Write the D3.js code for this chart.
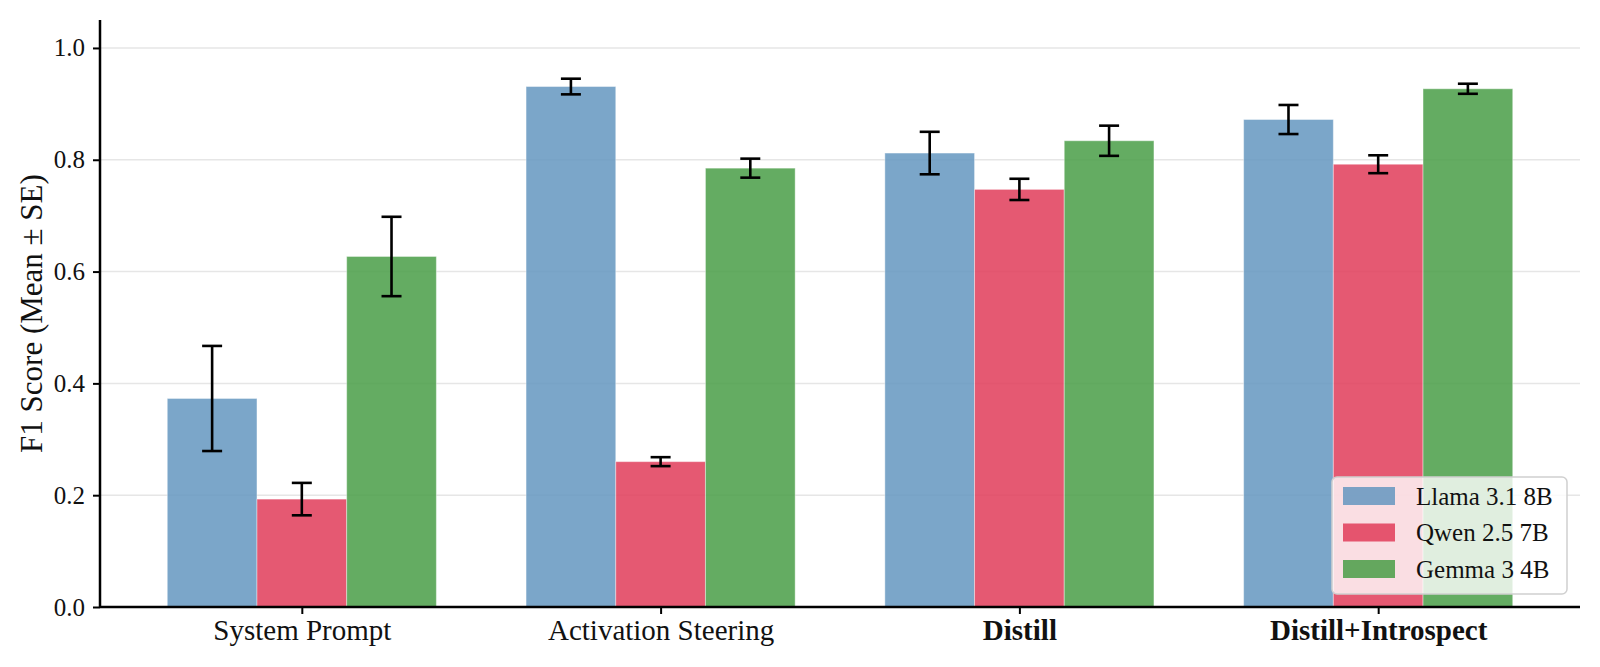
<!DOCTYPE html>
<html>
<head>
<meta charset="utf-8">
<script src="https://cdn.jsdelivr.net/npm/d3@7"></script>
<style>
  html, body { margin: 0; padding: 0; background: #fff; }
  svg { display: block; font-family: "Liberation Serif", "DejaVu Serif", serif; }
</style>
</head>
<body>
<svg id="chart" width="1600" height="667"></svg>
<script>
const categories = ["System Prompt", "Activation Steering", "Distill", "Distill+Introspect"];
const boldCategories = ["Distill", "Distill+Introspect"];
const seriesNames = ["Llama 3.1 8B", "Qwen 2.5 7B", "Gemma 3 4B"];
const llamaMean = [0.373, 0.931, 0.812, 0.872];
const llamaSE   = [0.094, 0.014, 0.038, 0.026];
const qwenMean  = [0.193, 0.260, 0.747, 0.792];
const qwenSE    = [0.029, 0.008, 0.019, 0.016];
const gemmaMean = [0.627, 0.785, 0.834, 0.927];
const gemmaSE   = [0.071, 0.017, 0.027, 0.009];
const yTicks = [0.0, 0.2, 0.4, 0.6, 0.8, 1.0];
const colors = ["#6496bf", "#e13c59", "#499d47"];

const means = [llamaMean, qwenMean, gemmaMean];
const ses = [llamaSE, qwenSE, gemmaSE];

const svg = d3.select("#chart");
const pLeft = 100, pRight = 1580, pTop = 20, pBottom = 607;

const x = d3.scaleLinear().domain([-0.5625, categories.length - 1 + 0.5625]).range([pLeft, pRight]);
const y = d3.scaleLinear().domain([0, 1.05]).range([pBottom, pTop]);
const barW = 0.25;

// grid
svg.append("g").selectAll("line").data(yTicks.filter(d => d > 0)).join("line")
  .attr("x1", pLeft).attr("x2", pRight)
  .attr("y1", d => y(d)).attr("y2", d => y(d))
  .attr("stroke", "#e6e6e6").attr("stroke-width", 1.5);

// bars
const data = [];
seriesNames.forEach((s, si) => {
  categories.forEach((c, ci) => {
    data.push({ si, ci, v: means[si][ci], e: ses[si][ci] });
  });
});

svg.append("g").selectAll("rect").data(data).join("rect")
  .attr("x", d => x(d.ci + (d.si - 1) * barW - barW / 2))
  .attr("width", d => x(barW) - x(0))
  .attr("y", d => y(d.v))
  .attr("height", d => y(0) - y(d.v))
  .attr("fill", d => colors[d.si])
  .attr("fill-opacity", 0.85)
  .attr("stroke", "#ffffff").attr("stroke-opacity", 0.4).attr("stroke-width", 1);

// error bars
const eg = svg.append("g").attr("stroke", "#000").attr("stroke-width", 2.6);
data.forEach(d => {
  const cx = x(d.ci + (d.si - 1) * barW);
  eg.append("line").attr("x1", cx).attr("x2", cx).attr("y1", y(d.v - d.e)).attr("y2", y(d.v + d.e));
  eg.append("line").attr("x1", cx - 10).attr("x2", cx + 10).attr("y1", y(d.v - d.e)).attr("y2", y(d.v - d.e));
  eg.append("line").attr("x1", cx - 10).attr("x2", cx + 10).attr("y1", y(d.v + d.e)).attr("y2", y(d.v + d.e));
});

// y axis
const yAxis = svg.append("g").attr("transform", `translate(${pLeft},0)`)
  .call(d3.axisLeft(y).tickValues(yTicks).tickFormat(d3.format(".1f")).tickSize(7).tickPadding(8));
yAxis.select(".domain").attr("stroke", "#000").attr("stroke-width", 2.5).attr("d", `M0,${pTop}V${pBottom}`);
yAxis.selectAll(".tick line").attr("stroke", "#000").attr("stroke-width", 2);
yAxis.selectAll(".tick text").attr("font-size", 25).attr("fill", "#111").attr("font-family", "Liberation Serif, serif");

// x axis
const xAxis = svg.append("g").attr("transform", `translate(0,${pBottom})`)
  .call(d3.axisBottom(x).tickValues(d3.range(categories.length)).tickFormat(i => categories[i]).tickSize(7).tickPadding(5));
xAxis.select(".domain").attr("stroke", "#000").attr("stroke-width", 2.5).attr("d", `M${pLeft},0H${pRight}`);
xAxis.selectAll(".tick line").attr("stroke", "#000").attr("stroke-width", 2);
xAxis.selectAll(".tick text").attr("font-size", 29).attr("fill", "#111")
  .attr("font-family", "Liberation Serif, serif")
  .attr("font-weight", i => boldCategories.includes(categories[i]) ? "bold" : "normal");

// y label
svg.append("text")
  .attr("transform", `translate(42,${(pTop + pBottom) / 2}) rotate(-90)`)
  .attr("text-anchor", "middle")
  .attr("font-size", 31).attr("fill", "#111")
  .text("F1 Score (Mean ± SE)");

// legend
const lg = svg.append("g");
lg.append("rect").attr("x", 1332).attr("y", 477).attr("width", 235).attr("height", 117)
  .attr("rx", 5).attr("fill", "#fff").attr("fill-opacity", 0.8)
  .attr("stroke", "#d0d0d0").attr("stroke-width", 1.5);
seriesNames.forEach((s, i) => {
  const cy = 496 + i * 36.5;
  lg.append("rect").attr("x", 1343).attr("y", cy - 9).attr("width", 52).attr("height", 18)
    .attr("fill", colors[i]).attr("fill-opacity", 0.85);
  lg.append("text").attr("x", 1416).attr("y", cy + 8.5).attr("font-size", 25).attr("fill", "#111").text(s);
});
</script>
</body>
</html>
